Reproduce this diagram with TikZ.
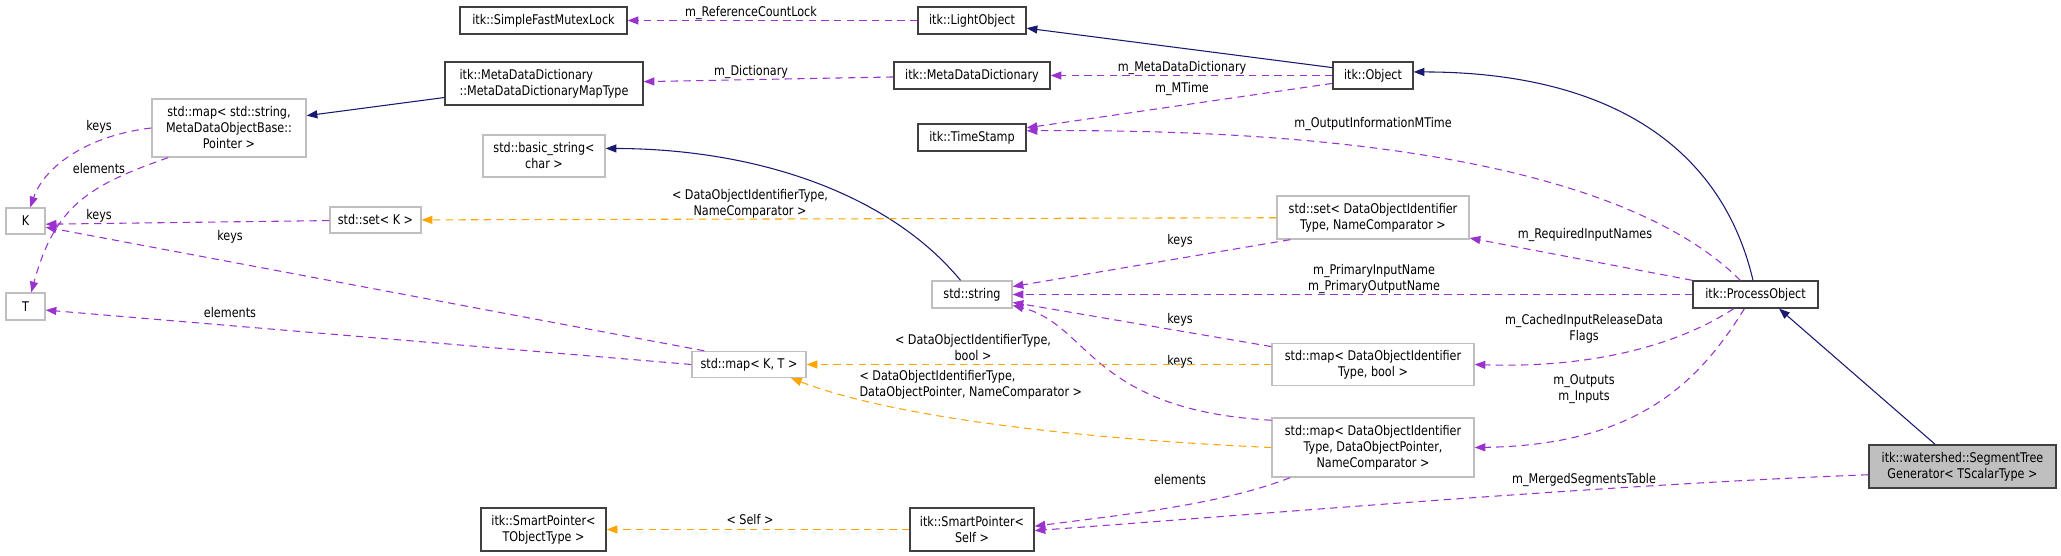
\documentclass[tikz,border=0pt]{standalone}
\usepackage{fontspec}
\setmainfont{DejaVu Sans}[FakeStretch=0.84]
\usepackage{tikz}
\usetikzlibrary{arrows.meta}
\definecolor{colInherit}{HTML}{191970}
\definecolor{colUsage}{HTML}{9A32CD}
\definecolor{colTempl}{HTML}{FFA500}
\definecolor{docBorder}{HTML}{404040}
\definecolor{extBorder}{HTML}{BFBFBF}
\definecolor{focusFill}{HTML}{BFBFBF}
\newcommand{\pxu}{0.75pt}

\begin{document}
\begin{tikzpicture}[
            x=0.75pt, y=-0.75pt,
            font=\fontsize{10}{12}\selectfont,
            cls/.style={rectangle, draw=docBorder, line width=1pt, fill=white, inner sep=0pt, align=center},
            extcls/.style={cls, draw=extBorder},
            focuscls/.style={cls, fill=focusFill},
            wh/.style 2 args={minimum width=#1*\pxu, minimum height=#2*\pxu},
            tip/.style={-{Triangle[length=8pt,width=6pt]}},
            inhline/.style={tip, color=colInherit, line width=0.8pt},
            useline/.style={tip, color=colUsage, line width=0.8pt, dash pattern=on 5.5pt off 4pt},
            tplline/.style={tip, color=colTempl, line width=0.8pt, dash pattern=on 5.5pt off 4pt},
            lbl/.style={text=black, inner sep=0pt, align=center}
        ]
        \useasboundingbox (0,0) rectangle (2061,556);
        % classes
        \node [cls, wh={167}{27}] (sfml) at (543.5,20.5) {itk::SimpleFastMutexLock};
        \node [cls, wh={108}{27}] (lo) at (972,20.5) {itk::LightObject};
        \node [cls, wh={198}{43}, align=left] (mdmap) at (544,83.5) {itk::MetaDataDictionary\\::MetaDataDictionaryMapType};
        \node [cls, wh={156}{27}] (mdd) at (972,75.5) {itk::MetaDataDictionary};
        \node [cls, wh={80}{27}] (obj) at (1373,75.5) {itk::Object};
        \node [extcls, wh={154}{58}] (strmap) at (229,128) {std::map< std::string,\\ MetaDataObjectBase::\\Pointer >};
        \node [extcls, wh={122}{42}] (bstr) at (544,156) {std::basic\_string<\\char >};
        \node [cls, wh={108}{27}] (ts) at (972,137.5) {itk::TimeStamp};
        \node [extcls, wh={39}{26}] (k) at (25.5,221) {K};
        \node [extcls, wh={39}{27}] (t) at (25.5,306.5) {T};
        \node [extcls, wh={91}{26}] (setk) at (375.5,220) {std::set< K >};
        \node [extcls, wh={192}{43}] (setdoi) at (1373,217.5) {std::set< DataObjectIdentifier\\Type, NameComparator >};
        \node [extcls, wh={80}{27}] (str) at (972,294.5) {std::string};
        \node [cls, wh={125}{27}] (po) at (1755.5,294.5) {itk::ProcessObject};
        \node [extcls, wh={114}{26}] (mapkt) at (749,364.5) {std::map< K, T >};
        \node [extcls, wh={202}{42}] (mapbool) at (1373,364.5) {std::map< DataObjectIdentifier\\Type, bool >};
        \node [extcls, wh={202}{59}] (mapdop) at (1373,447.5) {std::map< DataObjectIdentifier\\Type, DataObjectPointer,\\ NameComparator >};
        \node [cls, wh={125}{43}] (sptobj) at (543.5,529.5) {itk::SmartPointer<\\TObjectType >};
        \node [cls, wh={124}{43}] (spself) at (972,529.5) {itk::SmartPointer<\\Self >};
        \node [focuscls, wh={187}{43}] (stg) at (1962.5,466.5) {itk::watershed::SegmentTree\\Generator< TScalarType >};
        % inheritance
        \draw [inhline] (obj.169) -- (lo.-8);
        \draw [inhline] (mdmap.188) -- (strmap.9);
        \draw [inhline] (str.129) .. controls (890,195) and (760,149) .. (bstr.7);
        \draw [inhline] (po.100) .. controls (1720,140) and (1600,72) .. (obj.5);
        \draw [inhline] (stg.141) -- (po.-31);
        % members
        \draw [useline] (lo) -- (sfml) node[lbl] at (751,13) {m\_ReferenceCountLock};
        \draw [useline] (mdd) -- (mdmap) node[lbl] at (751,72) {m\_Dictionary};
        \draw [useline] (obj) -- (mdd) node[lbl] at (1182,68) {m\_MetaDataDictionary};
        \draw [useline] (obj.191) -- (ts.10) node[lbl] at (1182,89) {m\_MTime};
        \draw [useline] (po.137) .. controls (1640,180) and (1400,128) .. (ts.7) node[lbl] at (1373,124) {m\_OutputInformationMTime};
        \draw [useline] (setdoi.-165) -- (str.11) node[lbl] at (1180,241) {keys};
        \draw [useline] (po.north west) -- (setdoi.-12) node[lbl] at (1585,235) {m\_RequiredInputNames};
        \draw [useline] (po) -- (str) node[lbl] at (1374,279) {m\_PrimaryInputName\\m\_PrimaryOutputName};
        \draw [useline] (mapbool.170) -- (str.-11) node[lbl] at (1180,320) {keys};
        \draw [useline] (mapdop.165) .. controls (1090,410) and (1090,325) .. (str.-15) node[lbl] at (1180,362) {keys};
        \draw [useline] (po.-147) .. controls (1670,350) and (1580,368) .. (mapbool.east) node[lbl] at (1584,329) {m\_CachedInputReleaseData\\Flags};
        \draw [useline] (po.-128) .. controls (1700,380) and (1640,445) .. (mapdop.east) node[lbl] at (1584,389) {m\_Outputs\\m\_Inputs};
        \draw [useline] (mapdop.-160) .. controls (1220,505) and (1120,515) .. (spself.3) node[lbl] at (1180,480) {elements};
        \draw [useline] (stg.-175) .. controls (1600,485) and (1250,515) .. (spself.-1) node[lbl] at (1584,480) {m\_MergedSegmentsTable};
        \draw [useline] (strmap.west) .. controls (90,135) and (45,165) .. (k.71) node[lbl] at (99,127) {keys};
        \draw [useline] (strmap.-154) .. controls (90,185) and (55,205) .. (t.68) node[lbl] at (99,169) {elements};
        \draw [useline] (setk) -- (k.-9) node[lbl] at (99,216) {keys};
        \draw [useline] (mapkt.163) -- (k.-17) node[lbl] at (230,237) {keys};
        \draw [useline] (mapkt.west) -- (t.-10) node[lbl] at (230,313) {elements};
        % template instances
        \draw [tplline] (setdoi) -- (setk) node[lbl] at (750,204) {< DataObjectIdentifierType,\\NameComparator >};
        \draw [tplline] (mapbool) -- (mapkt) node[lbl] at (973,348) {< DataObjectIdentifierType,\\bool >};
        \draw [tplline] (mapdop.west) .. controls (1100,440) and (900,420) .. (mapkt.-18) node[lbl, align=left, anchor=west] at (859,385) {< DataObjectIdentifierType,\\DataObjectPointer, NameComparator >};
        \draw [tplline] (spself) -- (sptobj) node[lbl] at (750,520) {< Self >};
    \end{tikzpicture}
\end{document}
